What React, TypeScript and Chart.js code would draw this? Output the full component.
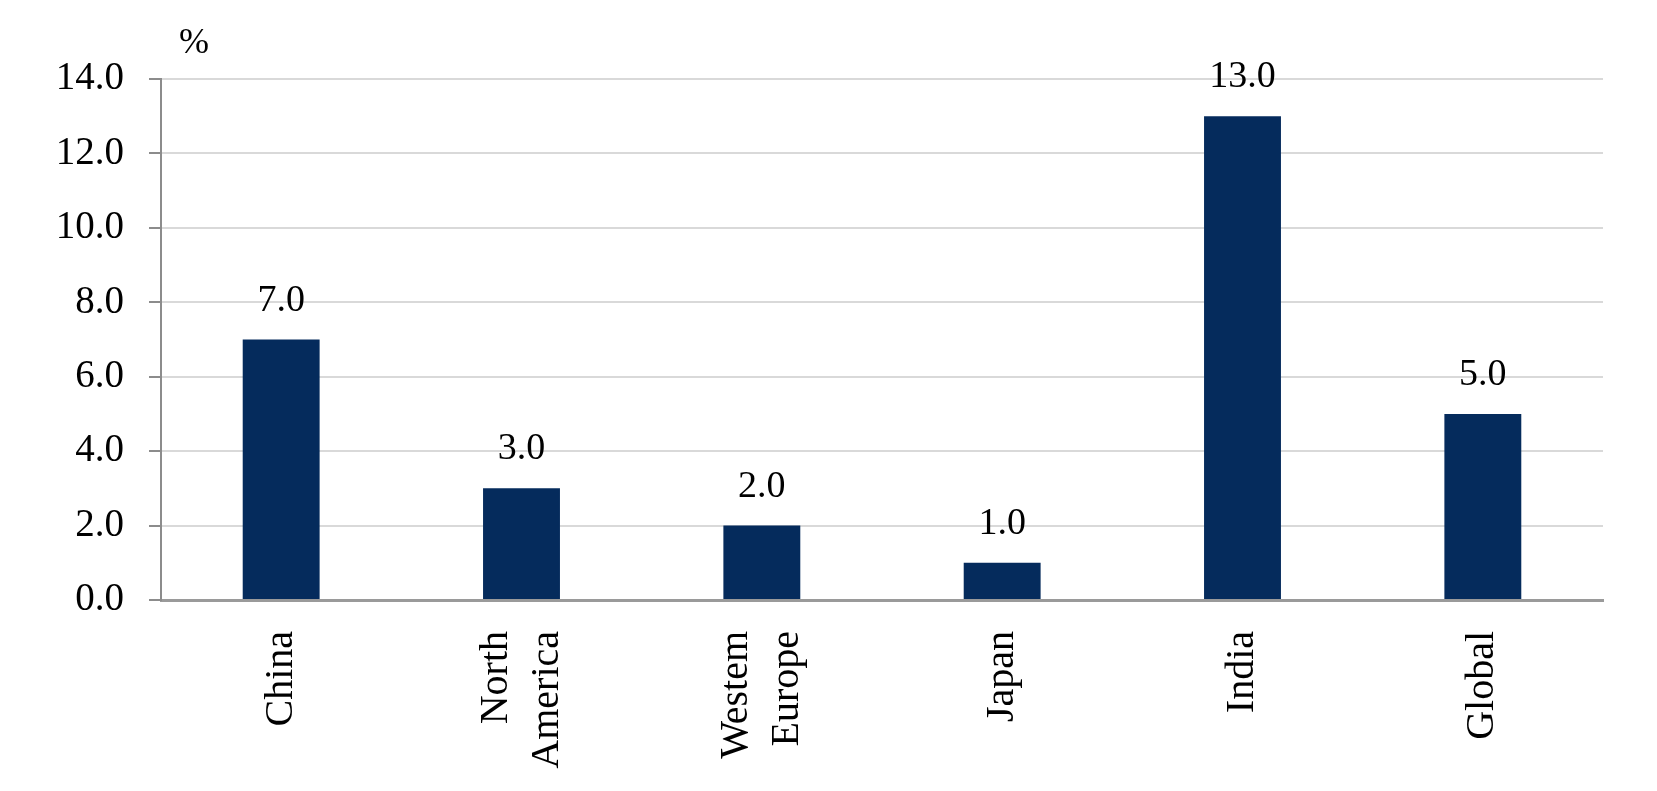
import React, { useEffect, useRef } from "react";
import { Chart, registerables } from "chart.js";

Chart.register(...registerables);

const categories: (string | string[])[] = [
  "China",
  ["North", "America"],
  ["Westem", "Europe"],
  "Japan",
  "India",
  "Global",
];
const growthValues: number[] = [7.0, 3.0, 2.0, 1.0, 13.0, 5.0];
const yMin = 0;
const yMax = 14;
const yStep = 2;
const unitLabel = "%";

const SERIF = '"Liberation Serif", "Times New Roman", serif';
const BAR_COLOR = "#052B5C";

const valueLabelPlugin = {
  id: "valueLabels",
  afterDatasetsDraw(chart: any) {
    const { ctx } = chart;
    const meta = chart.getDatasetMeta(0);
    ctx.save();
    ctx.font = `38px ${SERIF}`;
    ctx.fillStyle = "#000";
    ctx.textAlign = "center";
    ctx.textBaseline = "alphabetic";
    meta.data.forEach((bar: any, i: number) => {
      const v = chart.data.datasets[0].data[i] as number;
      ctx.fillText(v.toFixed(1), bar.x, bar.y - 29);
    });
    ctx.restore();
  },
};

const categoryLabelPlugin = {
  id: "categoryLabels",
  afterDraw(chart: any) {
    const { ctx } = chart;
    const xScale = chart.scales.x;
    const lineHeight = 51;
    ctx.save();
    ctx.font = `40px ${SERIF}`;
    ctx.fillStyle = "#000";
    ctx.textAlign = "right";
    ctx.textBaseline = "middle";
    (chart.data.labels as (string | string[])[]).forEach((lab, i) => {
      const lines = Array.isArray(lab) ? lab : [lab];
      const px = xScale.getPixelForTick(i);
      ctx.save();
      ctx.translate(px, xScale.top + 31);
      ctx.rotate(-Math.PI / 2);
      lines.forEach((ln, j) => {
        const off = (j - (lines.length - 1) / 2) * lineHeight;
        ctx.fillText(ln, 0, off);
      });
      ctx.restore();
    });
    ctx.restore();
  },
};

const unitPlugin = {
  id: "unitLabel",
  afterDraw(chart: any) {
    const { ctx, chartArea } = chart;
    ctx.save();
    ctx.font = `36px ${SERIF}`;
    ctx.fillStyle = "#000";
    ctx.textAlign = "center";
    ctx.textBaseline = "alphabetic";
    ctx.fillText(unitLabel, chartArea.left + 33, chartArea.top - 26);
    ctx.restore();
  },
};

export default function App() {
  const canvasRef = useRef<HTMLCanvasElement | null>(null);

  useEffect(() => {
    if (!canvasRef.current) return;
    const chart = new Chart(canvasRef.current, {
      type: "bar",
      data: {
        labels: categories,
        datasets: [
          {
            data: growthValues,
            backgroundColor: BAR_COLOR,
            borderWidth: 0,
            categoryPercentage: 1,
            barPercentage: 0.32,
          },
        ],
      },
      options: {
        animation: false,
        responsive: true,
        maintainAspectRatio: false,
        layout: { padding: { left: 0, right: 54, top: 79, bottom: 0 } },
        plugins: {
          legend: { display: false },
          tooltip: { enabled: false },
        },
        scales: {
          x: {
            grid: { display: false },
            border: { display: true, color: "#9a9a9a", width: 3 },
            ticks: { display: false, autoSkip: false },
            afterFit(scale: any) {
              scale.height = 191;
            },
          },
          y: {
            min: yMin,
            max: yMax,
            grid: {
              color: "#d9d9d9",
              lineWidth: 2,
              tickLength: 12,
              tickColor: "#8c8c8c",
              tickWidth: 2,
            },
            border: { display: true, color: "#8c8c8c", width: 2 },
            ticks: {
              stepSize: yStep,
              padding: 25,
              color: "#000",
              font: { family: SERIF, size: 39 },
              callback: (v: any) => Number(v).toFixed(1),
            },
            afterFit(scale: any) {
              scale.width = 161;
            },
          },
        },
      },
      plugins: [valueLabelPlugin, categoryLabelPlugin, unitPlugin],
    });
    return () => chart.destroy();
  }, []);

  return (
    <div style={{ position: "fixed", left: 0, top: 0, width: 1657, height: 791, background: "#fff" }}>
      <canvas ref={canvasRef} />
    </div>
  );
}
